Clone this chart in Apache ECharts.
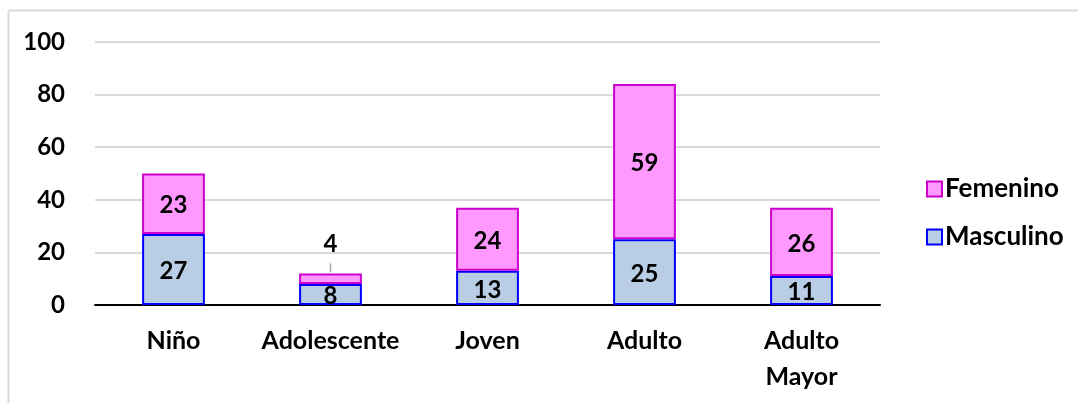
<!DOCTYPE html>
<html><head><meta charset="utf-8">
<script src="https://cdn.jsdelivr.net/npm/echarts@6/dist/echarts.min.js"></script>
<style>html,body{margin:0;padding:0;background:#fff}#c{width:1078px;height:403px}</style>
</head><body><div id="c"></div>
<script>
const categories = ['Niño', 'Adolescente', 'Joven', 'Adulto', 'Adulto\nMayor'];
const masculino = [27, 8, 13, 25, 11];
const femenino = [23, 4, 24, 59, 26];
const yTicks = [0, 20, 40, 60, 80, 100];

const FONT = 'Lato, "Open Sans", sans-serif';
const frame = [
  {type: 'line', shape: {x1: 8.5, y1: 10.5, x2: 1078, y2: 10.5}, style: {stroke: '#d9d9d9', lineWidth: 2}},
  {type: 'line', shape: {x1: 8.5, y1: 10.5, x2: 8.5, y2: 403}, style: {stroke: '#d9d9d9', lineWidth: 2}}
];
const chart = echarts.init(document.getElementById('c'));
chart.setOption({
  animation: false,
  backgroundColor: '#fff',
  graphic: frame,
  grid: {left: 95, right: 198, top: 42, bottom: 98, containLabel: false},
  legend: {
    orient: 'vertical', left: 921, top: 171, itemGap: 22, itemWidth: 15, itemHeight: 15,
    icon: 'rect',
    data: ['Femenino', 'Masculino'],
    textStyle: {fontFamily: FONT, fontWeight: 'bold', fontSize: 26, lineHeight: 26, color: '#000', padding: [0, 0, 0, -2]}
  },
  xAxis: {
    type: 'category', data: categories,
    axisLine: {lineStyle: {color: '#000', width: 2}},
    axisTick: {show: false},
    axisLabel: {interval: 0, hideOverlap: false, fontFamily: FONT, fontWeight: 'bold', fontSize: 25, color: '#000', margin: 18, lineHeight: 36}
  },
  yAxis: {
    type: 'value', min: yTicks[0], max: yTicks[yTicks.length - 1], interval: 20,
    axisLine: {show: false}, axisTick: {show: false},
    splitLine: {lineStyle: {color: '#d9d9d9', width: 2}},
    axisLabel: {fontFamily: FONT, fontWeight: 'bold', fontSize: 24, color: '#000', margin: 30}
  },
  series: [
    {
      name: 'Masculino', type: 'bar', stack: 's', barWidth: '40%', data: masculino,
      itemStyle: {color: '#b9cde5', borderColor: '#0000ff', borderWidth: 2},
      label: {show: true, position: 'inside', fontFamily: FONT, fontWeight: 'bold', fontSize: 24, color: '#000', offset: [0, 2]}
    },
    {
      name: 'Femenino', type: 'bar', stack: 's', barWidth: '40%',
      data: femenino.map((v, i) => i === 1 ? {value: v, label: {position: 'top', distance: 19}} : v),
      itemStyle: {color: '#ff99ff', borderColor: '#cc00cc', borderWidth: 2},
      label: {show: true, position: 'inside', fontFamily: FONT, fontWeight: 'bold', fontSize: 24, color: '#000', offset: [0, 2]}
    }
  ]
});
// leader line for the small Adolescente label
const p0 = chart.convertToPixel({xAxisIndex: 0, yAxisIndex: 0}, [1, masculino[1] + femenino[1]]);
chart.setOption({graphic: frame.concat([
  {type: 'line', shape: {x1: p0[0], y1: p0[1] - 1, x2: p0[0], y2: p0[1] - 10}, style: {stroke: '#a6a6a6', lineWidth: 1.5}}
])});
</script></body></html>
